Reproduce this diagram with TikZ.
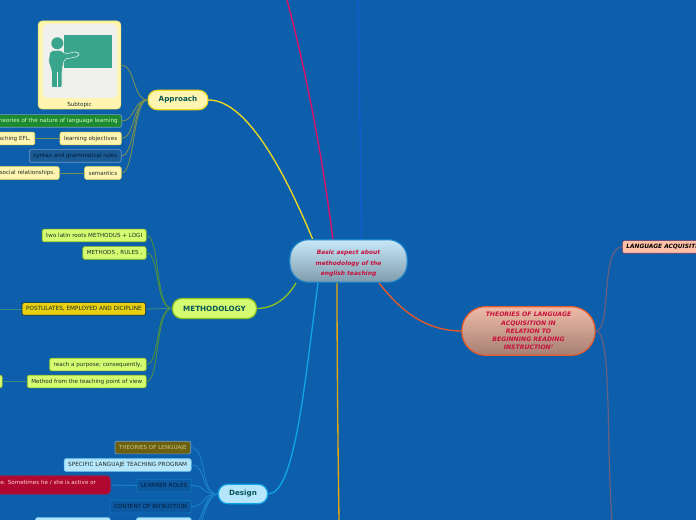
\documentclass[tikz,border=0pt]{standalone}
\usepackage{fontspec}
\setmainfont{DejaVu Sans}
\definecolor{bg}{HTML}{0D5EAB}
\definecolor{ylw}{HTML}{FFF5B0}
\definecolor{ylwl}{HTML}{F0D820}
\definecolor{lime}{HTML}{D5FB70}
\definecolor{limel}{HTML}{8DC21F}
\definecolor{sky}{HTML}{B5E6FC}
\definecolor{skyl}{HTML}{0FA5E8}
\definecolor{txt}{HTML}{1E2E28}
\definecolor{crim}{HTML}{C8103C}
\definecolor{yline}{HTML}{768F55}
\definecolor{gline}{HTML}{4B9045}
\definecolor{tline}{HTML}{3A8A80}
\definecolor{bline}{HTML}{1B82C8}
\definecolor{rline}{HTML}{6A6080}
\definecolor{icon}{HTML}{38A58C}
\definecolor{panel}{HTML}{F0F0EC}
\tikzset{
  x=0.75pt,y=-0.75pt,
  box/.style={draw,line width=0.5pt,rounded corners=1.5pt,inner ysep=0pt,inner xsep=3pt,font=\fontsize{4.2pt}{5pt}\selectfont,text=txt,minimum height=9.5pt},
  ybox/.style={box,fill=ylw,draw=ylwl!70!white},
  lbox/.style={box,fill=lime,draw=limel},
  sbox/.style={box,fill=sky,draw=skyl!60!white},
  dbox/.style={box,fill=black!6!bg,draw=skyl!40!bg,text=black!70!bg},
  main/.style={draw,line width=0.9pt,rounded corners=7pt,font=\bfseries\fontsize{5.4pt}{6pt}\selectfont,text=black!70!green!50!bg,inner sep=0pt},
  cl/.style={line width=0.7pt,line cap=round},
  bl/.style={line width=1pt,line cap=round},
}
\begin{document}
\begin{tikzpicture}
\useasboundingbox (0,0) rectangle (696,520);
\clip (0,0) rectangle (696,520);
\fill[bg] (0,0) rectangle (696,520);

\coordinate (cT) at (333,240);
\coordinate (cTb) at (361,240);
\coordinate (top1) at (287,0);
\coordinate (top2) at (358,0);
\coordinate (botO) at (339,520);
\coordinate (botR) at (612,520);
\coordinate (cA) at (313,240);
\coordinate (cM) at (296,283);
\coordinate (cD) at (318,283);
\coordinate (cO) at (337,283);
\coordinate (cR) at (379,283);

\definecolor{pinkl}{HTML}{E0106A}
\definecolor{bluel}{HTML}{0E5FD2}
\definecolor{goldl}{HTML}{E8A80C}
\definecolor{redl}{HTML}{E85A28}
\draw[bl,draw=pinkl] (cT) .. controls (323,160) and (306,70) .. (top1);
\draw[bl,draw=bluel] (cTb) .. controls (361,160) and (359,70) .. (top2);
\draw[bl,draw=goldl] (cO) .. controls (337,360) and (338,450) .. (botO);

\node[main,fill=ylw,draw=ylwl,minimum width=45pt,minimum height=14.5pt] (appr) at (178,100) {Approach};
\node[main,fill=lime,draw=limel,minimum width=63pt,minimum height=15pt] (meth) at (214.5,308.5) {METHODOLOGY};
\node[main,fill=sky,draw=skyl,minimum width=37pt,minimum height=14.5pt] (des) at (243,494) {Design};

% Approach children
\node[ybox,minimum width=62pt,minimum height=66pt,rounded corners=3pt,inner sep=0pt] (sub) at (79.5,65) {};
\node[anchor=south,font=\fontsize{4.2pt}{5pt}\selectfont,text=txt,inner sep=0pt] (subl) at (79.5,107.5) {Subtopic};
\fill[panel,rounded corners=3pt] (43,24) rectangle (117,98);
\fill[icon] (64,35) rectangle (111.5,68.5);
\fill[icon] (57.3,43.3) circle (6);
\draw[fill=icon,draw=panel,line width=0.4pt,rounded corners=1.5pt] (50,51) -- (61,50) -- (65,54) -- (77,51.5) -- (79.5,54.5) -- (77,57) -- (64.5,59) -- (62,70) -- (62,87.5) -- (51.5,87.5) -- (51.5,70) -- (48.5,62) -- cycle;
\draw[panel,line width=0.4pt] (57,72) -- (57,87.5);

\definecolor{ngreen}{HTML}{1E8A30}
\definecolor{nblue}{HTML}{1A5A95}
\node[box,fill=ngreen,draw=bg!60!white,text=white!80!green,anchor=east] (n1) at (122,121) {theories of the nature of language learning};
\node[ybox,anchor=east] (n2) at (121.5,138.5) {learning objectives};
\node[ybox,anchor=east] (n2b) at (35,138.5) {teaching EFL.};
\node[box,fill=nblue,draw=bg!60!white,text=black!70!bg,anchor=east] (n3) at (121.5,156) {syntax and grammatical rules};
\node[ybox,anchor=east] (n4) at (121.5,173) {semantics};
\node[ybox,anchor=east] (n4b) at (59.5,173) {social relationships.};
\foreach \n/\yy in {sub/65,n1/121,n2/138.5,n3/156,n4/173}
  \draw[cl,draw=yline] (\n.east) .. controls (135,\yy) and (133,100) .. (appr.west);
\draw[cl,draw=yline] (n2.west) -- (n2b.east);
\draw[cl,draw=yline] (n4.west) -- (n4b.east);
\draw[line width=1pt,draw=ylwl] (appr.east) .. controls (250,100) and (290,185) .. (cA);

% Methodology children
\definecolor{myel}{HTML}{E8D010}
\node[lbox,anchor=east] (m1) at (146.5,235.5) {two latin roots METHODUS + LOGI};
\node[lbox,anchor=east] (m2) at (146.5,253) {METHODS , RULES ,};
\node[box,fill=myel,draw=black!60!bg,anchor=east,font=\fontsize{4.3pt}{5pt}\selectfont] (m3) at (146,309) {POSTULATES, EMPLOYED AND DICIPLINE};
\node[lbox,anchor=east] (m4) at (146.5,364.5) {reach a purpose; consequently,};
\node[lbox,anchor=east] (m5) at (146.5,381.5) {Method from the teaching point of view};
\node[lbox,anchor=east,minimum width=8pt] (m5b) at (2.5,381.5) {};
\coordinate (lf) at (0,309);
\foreach \n/\yy in {m1/235.5,m2/253,m4/364.5,m5/381.5}
  \draw[cl,draw=gline] (\n.east) .. controls (160,\yy) and (155,308.5) .. (meth.west);
\draw[cl,draw=tline] (m3.east) -- (meth.west);
\draw[cl,draw=tline] (m3.west) -- (lf);
\draw[cl,draw=tline] (m5.west) -- (m5b.east);
\draw[line width=1pt,draw=limel] (meth.east) .. controls (275,308) and (287,298) .. (cM);

% Design children
\definecolor{olv}{HTML}{6A6010}
\definecolor{olt}{HTML}{D0C880}
\definecolor{dred}{HTML}{B00830}
\node[box,fill=olv,draw=bg!60!white,text=olt,anchor=east] (d1) at (191,447.5) {THEORIES OF LENGUAJE};
\node[sbox,anchor=east,font=\fontsize{4.3pt}{5pt}\selectfont] (d2) at (191.5,465) {SPECIFIC LANGUAJE TEACHING PROGRAM};
\node[dbox,anchor=east] (d3) at (191.5,485.5) {LEARNER ROLES};
\node[box,fill=dred,draw=red!40!bg,minimum width=120pt,minimum height=14pt,rounded corners=3pt,anchor=east] (d3b) at (111,485) {};
\node[anchor=west,inner sep=0pt,font=\fontsize{4.2pt}{5pt}\selectfont,text=white!85!red] (d3t) at (0,483) {e. Sometimes he / she is active or};
\node[dbox,anchor=east] (d4) at (191.5,506.5) {CONTENT OF INTRUCTION};
\node[sbox,anchor=east,minimum width=41pt] (d5) at (191.5,524) {};
\node[sbox,anchor=east,minimum width=56pt] (d5b) at (110.5,524) {};
\coordinate (d6) at (191,530);
\coordinate (d7) at (191,540);
\foreach \n/\yy in {d1/447.5,d2/465,d3/485.5,d4/506.5,d5/524}
  \draw[cl,draw=bline] (\n.east) .. controls (207,\yy) and (200,494) .. (des.west);
\draw[cl,draw=bline] (d6) .. controls (200,530) and (205,494) .. (des.west);
\draw[cl,draw=bline] (d7) .. controls (200,540) and (205,494) .. (des.west);
\draw[cl,draw=bline] (d3.west) -- (d3b.east);
\draw[cl,draw=bline] (d5.west) -- (d5b.east);
\draw[line width=1pt,draw=skyl] (des.east) .. controls (295,494) and (305,380) .. (cD);

% Central node
\definecolor{ctop}{HTML}{C8E8F8}
\definecolor{cbot}{HTML}{7F9CAD}
\node[draw=bline,line width=0.9pt,rounded corners=14pt,minimum width=88pt,minimum height=32pt,inner sep=0pt,top color=ctop,bottom color=cbot,text=crim,align=center,font=\bfseries\itshape\fontsize{4.45pt}{7.9pt}\selectfont] (center) at (348.5,261) {\rule{0pt}{7pt}Basic aspect about\\methodology of the\\english teaching};

% Theories node
\definecolor{ttop}{HTML}{EFBBA8}
\definecolor{tbot}{HTML}{A57F72}
\definecolor{lap}{HTML}{FFC0A8}
\draw[line width=1pt,draw=redl] (cR) .. controls (400,310) and (425,331) .. (462,331);
\node[draw=redl,line width=0.9pt,rounded corners=18pt,minimum width=100pt,minimum height=36.5pt,inner sep=0pt,top color=ttop,bottom color=tbot,text=crim,align=center,font=\bfseries\itshape\fontsize{4.6pt}{6.1pt}\selectfont] (th) at (528.5,331) {THEORIES OF LANGUAGE\\ACQUISITION IN\\RELATION TO\\BEGINNING READING\\INSTRUCTION'};
\node[box,fill=lap,draw=red!40!bg,text=black,anchor=west,font=\bfseries\itshape\fontsize{4.4pt}{5pt}\selectfont] (la) at (622,247) {LANGUAGE ACQUISITION};
\draw[cl,draw=rline,line width=0.9pt] (th.east) .. controls (612,331) and (600,247) .. (la.west);
\draw[cl,draw=rline,line width=0.9pt] (th.east) .. controls (612,331) and (606,440) .. (botR);
\end{tikzpicture}
\end{document}
